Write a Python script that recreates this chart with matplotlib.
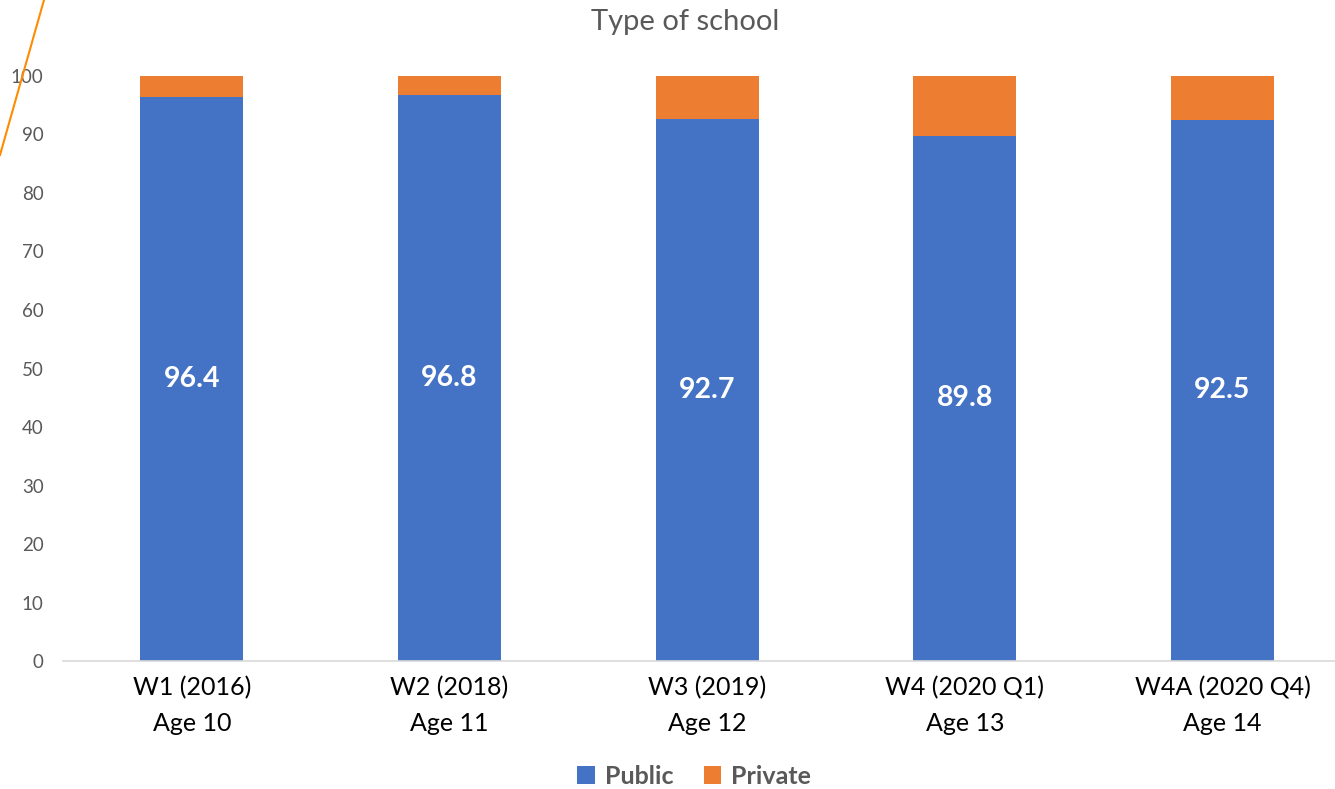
import numpy as np
import matplotlib.pyplot as plt
from matplotlib.lines import Line2D

plt.rcParams['font.family'] = ['Lato', 'DejaVu Sans']

waves = ['W1 (2016)\nAge 10', 'W2 (2018)\nAge 11', 'W3 (2019)\nAge 12',
         'W4 (2020 Q1)\nAge 13', 'W4A (2020 Q4)\nAge 14']
public = [96.4, 96.8, 92.7, 89.8, 92.5]
private = [3.6, 3.2, 7.3, 10.2, 7.5]

blue = '#4472c4'
orange = '#ed7d31'
grey = '#595959'

fig = plt.figure(figsize=(13.35, 7.89), dpi=100)
ax = fig.add_axes([0.0472, 0.1622, 0.965, 0.7415])

x = np.arange(len(waves))
ax.bar(x, public, width=0.4, color=blue, label='Public')
ax.bar(x, private, width=0.4, bottom=public, color=orange, label='Private')

for xi, v in zip(x, public):
    ax.text(xi, v / 2, f'{v:.1f}', ha='center', va='center',
            color='white', fontsize=20.5, fontweight='bold')

ax.set_xlim(-0.5, 4.5)
ax.set_ylim(0, 100)
ax.set_yticks(range(0, 101, 10))
ax.set_xticks(x)
ax.set_xticklabels(waves, fontsize=18, color='black', linespacing=1.65)
ax.tick_params(axis='y', labelsize=13.5, colors=grey, length=0, pad=14)
ax.tick_params(axis='x', length=0, pad=11)

for s in ['top', 'right', 'left']:
    ax.spines[s].set_visible(False)
ax.spines['bottom'].set_color('#d9d9d9')
ax.spines['bottom'].set_linewidth(1.2)

fig.text(0.513, 0.972, 'Type of school', ha='center', va='center',
         fontsize=21, color=grey)

fig.legend(loc='center', bbox_to_anchor=(0.52, 0.016), ncol=2, frameon=False,
           handlelength=0.7, handleheight=0.7, handletextpad=0.4, columnspacing=1.2,
           prop={'size': 18, 'weight': 'bold'}, labelcolor=grey)

# thin orange stroke crossing the top-left corner
fig.add_artist(Line2D([44 / 1335, 0], [1, 1 - 155 / 789], transform=fig.transFigure,
                      color='#ff8c00', linewidth=1.5))

fig.savefig('out.png', dpi=100)
